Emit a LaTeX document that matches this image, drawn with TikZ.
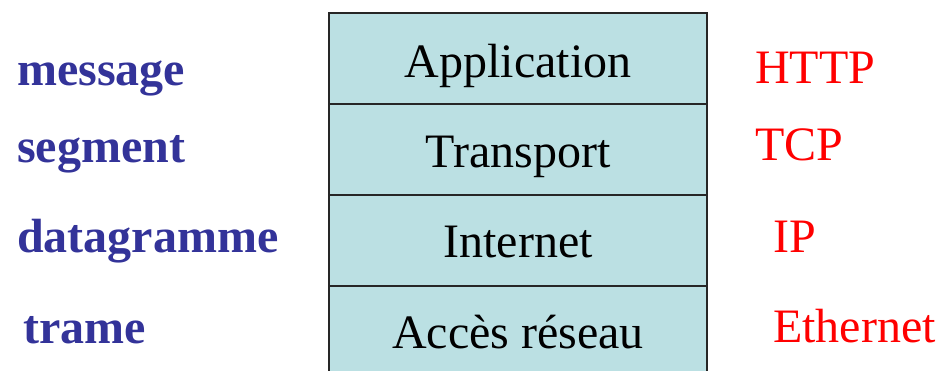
\documentclass[tikz,border=0pt]{standalone}
\usepackage{fontspec}
\setmainfont{Liberation Serif}
\definecolor{layerfill}{RGB}{187,224,227}
\definecolor{pdublue}{RGB}{51,51,153}
\definecolor{protored}{RGB}{255,0,0}
\begin{document}
\begin{tikzpicture}[x=1pt,y=-1pt,
  layer/.style={draw=black!85,line width=1.5pt,fill=layerfill,minimum width=378pt,minimum height=91pt,inner sep=0pt,outer sep=0pt},
  lname/.style={anchor=base,font=\fontsize{48}{56}\selectfont,text=black,inner sep=0pt},
  pdu/.style={anchor=base west,font=\fontsize{48}{56}\selectfont\bfseries,text=pdublue,inner sep=0pt},
  proto/.style={anchor=base west,font=\fontsize{48}{56}\selectfont,text=protored,inner sep=0pt}]
\useasboundingbox (0,0) rectangle (940,370);
\clip (0,0) rectangle (940,370);
\node[layer] (app) at (518,58.5) {};
\node[layer] (tra) at (518,149.5) {};
\node[layer] (int) at (518,240.5) {};
\node[layer] (acc) at (518,331.5) {};
\node[lname] (tapp) at (518,77) {Application};
\node[lname] (ttra) at (518,167) {Transport};
\node[lname] (tint) at (518,257) {Internet};
\node[lname] (tacc) at (518,348) {Accès réseau};
\node[pdu] (pmsg) at (17,85) {message};
\node[pdu] (pseg) at (17,162) {segment};
\node[pdu] (pdat) at (17,252) {datagramme};
\node[pdu] (ptra) at (23,343) {trame};
\node[proto] (http) at (755,83) {HTTP};
\node[proto] (tcp) at (755,160) {TCP};
\node[proto] (ip) at (773,252) {IP};
\node[proto] (eth) at (773,342) {Ethernet};
\end{tikzpicture}
\end{document}
